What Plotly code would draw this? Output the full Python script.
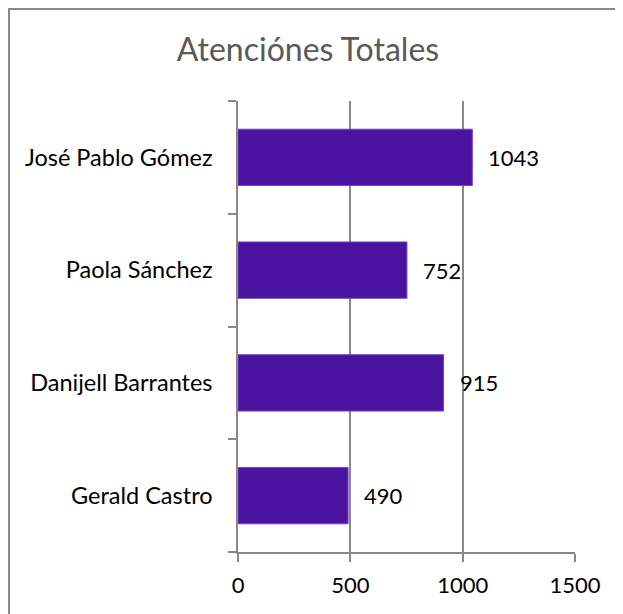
import plotly.graph_objects as go

categories = ["Gerald Castro", "Danijell Barrantes", "Paola Sánchez", "José Pablo Gómez"]
values = [490, 915, 752, 1043]
x_ticks = [0, 500, 1000, 1500]
title_text = "Atenciónes Totales"

# the page body adds an 8px offset, so the figure is sized to fill the rest of the window
W, H = 615, 606
L, R, T, B = 230, 48, 93, 62
pw = W - L - R
ph = H - T - B

font_family = "Lato, 'Open Sans', sans-serif"
grid_col = "#888888"

fig = go.Figure()
fig.add_trace(go.Bar(
    y=categories, x=values, orientation="h", width=0.5,
    marker=dict(color="#4A13A0", line=dict(color="#7048C0", width=1)),
    hoverinfo="x+y",
))

for c, v in zip(categories, values):
    fig.add_annotation(x=v, y=c, text=str(v), showarrow=False, xanchor="left",
                       xshift=14, font=dict(family=font_family, size=22, color="#000000"))

# outer chart border (decoration)
fig.add_shape(type="rect", xref="paper", yref="paper",
              x0=(1 - L) / pw, x1=(W + 5 - L) / pw,
              y0=-(B + 5) / ph, y1=(H - 1 - B) / ph,
              line=dict(color="#8a8a8a", width=2), fillcolor="rgba(0,0,0,0)", layer="below")

fig.update_layout(
    width=W, height=H,
    margin=dict(l=L, r=R, t=T, b=B, autoexpand=False),
    paper_bgcolor="white", plot_bgcolor="white",
    showlegend=False,
    title=dict(text=title_text, x=300 / W, xanchor="center", xref="container",
               y=1 - 42 / H, yanchor="middle", yref="container",
               font=dict(family=font_family, size=32, color="#595959")),
    font=dict(family=font_family, size=22, color="#000000"),
    xaxis=dict(range=[0, 1500], tickvals=x_ticks, showgrid=True, gridcolor=grid_col, gridwidth=1.5,
               showline=True, linecolor=grid_col, linewidth=1.5, ticks="outside", ticklen=8,
               tickcolor=grid_col, tickwidth=1.5, zeroline=False,
               tickfont=dict(family=font_family, size=22, color="#000000"), ticklabelstandoff=5),
    yaxis=dict(type="category", categoryorder="array", categoryarray=categories,
               range=[-0.5, 3.5], showgrid=False, showline=True, linecolor=grid_col, linewidth=1.5,
               ticks="outside", tickson="boundaries", ticklen=8, tickcolor=grid_col, tickwidth=1.5,
               tickfont=dict(family=font_family, size=23.5, color="#000000"), ticklabelstandoff=19),
)

fig.write_html("out.html")
